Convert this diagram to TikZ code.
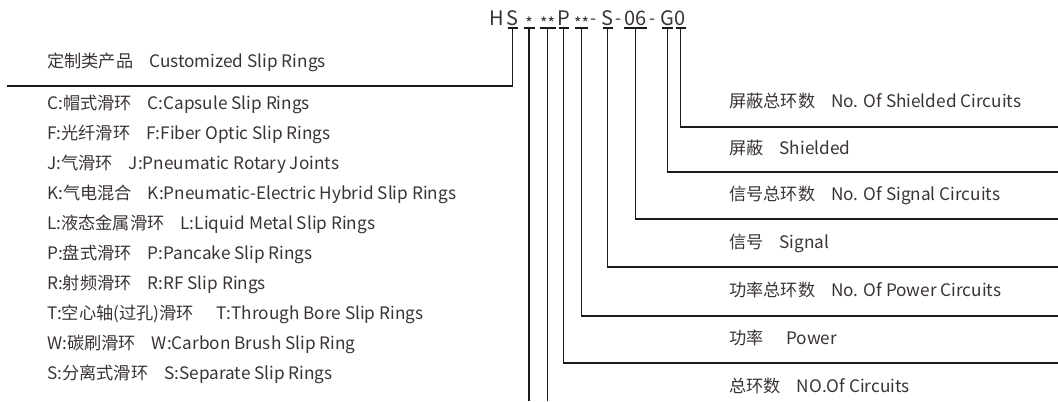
\documentclass[tikz,border=0pt]{standalone}
\usepackage{fontspec}
\setmainfont{Noto Sans CJK SC}
\usetikzlibrary{positioning}
\definecolor{textGray}{HTML}{3A3333}
\definecolor{lineBlack}{HTML}{1A1A1A}

\begin{document}
\begin{tikzpicture}[x=0.75pt, y=-0.75pt,
    code/.style={anchor=base, inner sep=0pt, font=\fontsize{15}{17}\selectfont, text=textGray},
    starcode/.style={code, font=\fontsize{12}{13}\selectfont},
    dashcode/.style={code, font=\fontsize{13}{15}\selectfont},
    desc/.style={anchor=west, inner sep=0pt, font=\fontsize{12.9}{15}\selectfont, text=textGray},
    lead/.style={line width=1.1pt, lineBlack},
    uline/.style={line width=0.9pt, lineBlack}
  ]
  \useasboundingbox (0,0) rectangle (1058,401);

  % model code
  \node[code] (cH) at (497,25) {H};
  \foreach \n/\t/\x/\w in {S1/S/512.5/10, P/P/563.5/10, S2/S/607.5/10, N/06/635.5/23, G/G/667.5/11, Z/0/680.5/10} {
    \node[code] (c\n) at (\x,25) {\t};
    \draw[uline] (\x-\w/2,28) -- (\x+\w/2,28);
    \coordinate (u\n) at (\x,28);
  }
  \foreach \n/\t/\x/\w in {A/*/529/11, B/**/547.5/16, C/**/581.5/13} {
    \node[starcode] (c\n) at (\x,29.5) {\t};
    \draw[uline] (\x-\w/2,28) -- (\x+\w/2,28);
    \coordinate (u\n) at (\x,28);
  }
  \foreach \n/\x in {1/594, 2/619, 3/653}
    \node[dashcode] (d\n) at (\x,24) {-};

  % line ends
  \coordinate (eTitle) at (7,86);
  \coordinate (eZ) at (1058,127);
  \coordinate (eG) at (1058,172);
  \coordinate (eN) at (1058,219);
  \coordinate (eS2) at (1058,267);
  \coordinate (eC) at (1058,316);
  \coordinate (eP) at (1058,363);
  \coordinate (eB) at (547.5,401);
  \coordinate (eA) at (529,401);

  \draw[lead] (uS1) |- (eTitle);
  \foreach \n in {Z, G, N, S2, C, P}
    \draw[lead] (u\n) |- (e\n);
  \draw[lead] (uA) -- (eA);
  \draw[lead] (uB) -- (eB);

  % right descriptions
  \node[desc] (tZ) at (729,101) {屏蔽总环数\hspace{12pt}No. Of Shielded Circuits};
  \node[desc] (tG) at (729,148) {屏蔽\hspace{12pt}Shielded};
  \node[desc] (tN) at (729,195) {信号总环数\hspace{12pt}No. Of Signal Circuits};
  \node[desc] (tS2) at (729,243) {信号\hspace{12pt}Signal};
  \node[desc] (tC) at (729,290) {功率总环数\hspace{12pt}No. Of Power Circuits};
  \node[desc] (tP) at (729,338) {功率\hspace{17pt}Power};
  \node[desc] (tB) at (729,386) {总环数\hspace{12pt}NO.Of Circuits};

  % left descriptions
  \node[desc] (tTitle) at (47,62) {定制类产品\hspace{12pt}Customized Slip Rings};
  \foreach \t [count=\i] in {
      C:帽式滑环\hspace{12pt}C:Capsule Slip Rings,
      F:光纤滑环\hspace{12pt}F:Fiber Optic Slip Rings,
      J:气滑环\hspace{12pt}J:Pneumatic Rotary Joints,
      K:气电混合\hspace{12pt}K:Pneumatic-Electric Hybrid Slip Rings,
      L:液态金属滑环\hspace{12pt}L:Liquid Metal Slip Rings,
      P:盘式滑环\hspace{12pt}P:Pancake Slip Rings,
      R:射频滑环\hspace{12pt}R:RF Slip Rings,
      T:空心轴(过孔)滑环\hspace{17pt}T:Through Bore Slip Rings,
      W:碳刷滑环\hspace{12pt}W:Carbon Brush Slip Ring,
      S:分离式滑环\hspace{12pt}S:Separate Slip Rings}
    \node[desc] (tL\i) at (47,{104+30*(\i-1)}) {\t};
\end{tikzpicture}
\end{document}
